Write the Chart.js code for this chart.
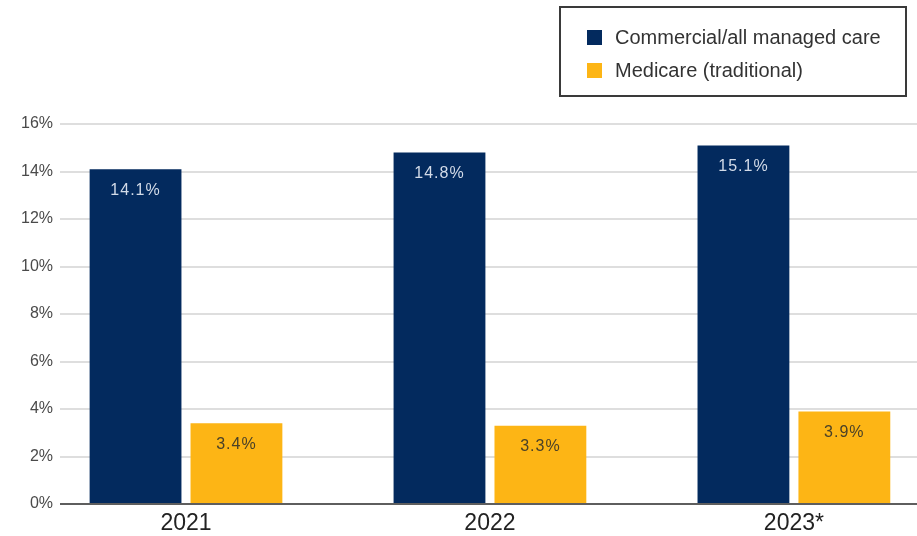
<!DOCTYPE html>
<html>
<head>
<meta charset="utf-8">
<script src="https://cdn.jsdelivr.net/npm/chart.js@4.4.1/dist/chart.umd.min.js"></script>
<style>
  html, body { margin: 0; padding: 0; background: #fff; }
  #wrap { position: relative; width: 917px; height: 536px; overflow: hidden; }
  #legend {
    position: absolute; left: 559px; top: 6px; width: 344px; height: 87px;
    border: 2px solid #3a3a3a; box-sizing: content-box;
    font-family: "Liberation Sans", Arial, sans-serif; font-size: 20px; color: #333;
  }
  #legend .item { position: absolute; left: 26px; display: flex; align-items: center; }
  #legend .sw { width: 15px; height: 15px; margin-right: 13px; }
</style>
</head>
<body>
<div id="wrap">
  <canvas id="chart" width="917" height="536"></canvas>
  <div id="legend"></div>
</div>
<script>
// Chart data
const years = ['2021', '2022', '2023*'];
const commercial = [14.1, 14.8, 15.1];
const medicare = [3.4, 3.3, 3.9];
const yTicks = [0, 2, 4, 6, 8, 10, 12, 14, 16];
const seriesNames = ['Commercial/all managed care', 'Medicare (traditional)'];
const seriesColors = ['#032a5e', '#fdb515'];
const labelColors = ['#d3dbe8', '#4a4128'];

const FONT = '"Liberation Sans", Arial, sans-serif';

// bar value labels, drawn just under each bar top
const valueLabels = {
  id: 'valueLabels',
  afterDatasetsDraw(chart) {
    const ctx = chart.ctx;
    ctx.save();
    ctx.font = '16px ' + FONT;
    ctx.textAlign = 'center';
    ctx.textBaseline = 'middle';
    ctx.letterSpacing = '1px';
    chart.data.datasets.forEach((ds, di) => {
      const meta = chart.getDatasetMeta(di);
      ctx.fillStyle = labelColors[di];
      meta.data.forEach((bar, i) => {
        ctx.fillText(ds.data[i].y.toFixed(1) + '%', bar.x, bar.y + 21);
      });
    });
    ctx.restore();
  }
};

function initializeChart() {
  const ctx = document.getElementById('chart').getContext('2d');
  window._chart = new Chart(ctx, {
    type: 'bar',
    data: {
      datasets: [
        {
          label: seriesNames[0],
          data: commercial.map((v, i) => ({ x: i, y: v })),
          backgroundColor: seriesColors[0]
        },
        {
          label: seriesNames[1],
          data: medicare.map((v, i) => ({ x: i, y: v })),
          backgroundColor: seriesColors[1]
        }
      ]
    },
    options: {
      responsive: false,
      animation: false,
      layout: { padding: { top: 124, right: 0, left: 0, bottom: 0 } },
      datasets: { bar: { categoryPercentage: 0.664, barPercentage: 0.91 } },
      plugins: {
        legend: { display: false },
        tooltip: { enabled: false }
      },
      scales: {
        x: {
          type: 'linear',
          offset: false,
          min: -0.4145,
          max: 2.405,
          grid: { display: false, drawTicks: false },
          border: { display: false },
          afterBuildTicks: (scale) => { scale.ticks = years.map((_, i) => ({ value: i })); },
          afterFit: (scale) => { scale.height = 32; },
          ticks: {
            padding: 8,
            color: '#222',
            font: { family: FONT, size: 23, lineHeight: 1 },
            callback: (v) => years[v]
          }
        },
        y: {
          min: 0,
          max: 16,
          afterBuildTicks: (scale) => { scale.ticks = yTicks.map(v => ({ value: v })); },
          afterFit: (scale) => { scale.width = 60; },
          border: { display: false },
          grid: {
            drawTicks: false,
            lineWidth: 2,
            color: (c) => c.tick && c.tick.value === 0 ? '#5e5e5e' : '#dedede'
          },
          ticks: {
            padding: 7,
            color: '#4a4a4a',
            font: { family: FONT, size: 16 },
            callback: (v) => v + '%'
          }
        }
      }
    },
    plugins: [valueLabels]
  });

  // html legend built from the datasets
  const legend = document.getElementById('legend');
  seriesNames.forEach((name, i) => {
    const item = document.createElement('div');
    item.className = 'item';
    item.style.top = (i === 0 ? 18 : 51) + 'px';
    item.innerHTML = '<span class="sw" style="background:' + seriesColors[i] + '"></span>' + name;
    legend.appendChild(item);
  });
}

initializeChart();
</script>
</body>
</html>
